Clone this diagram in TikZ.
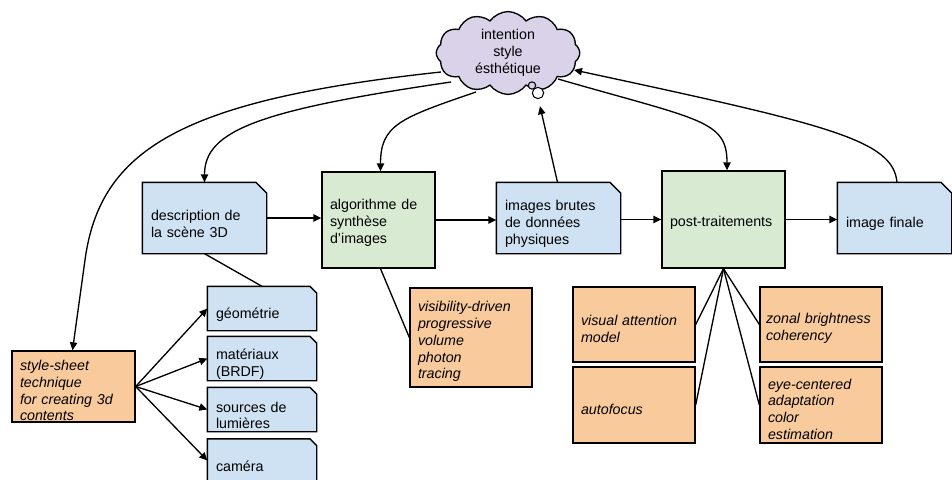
\documentclass[tikz,border=0pt]{standalone}
\usepackage{fontspec}
\setmainfont{Liberation Sans}
\usetikzlibrary{shapes.symbols,arrows.meta,calc,backgrounds}
\definecolor{bluef}{HTML}{CFE2F3}
\definecolor{greenf}{HTML}{D9EAD3}
\definecolor{orangef}{HTML}{F9CB9C}
\definecolor{purplef}{HTML}{D9D2E9}
\begin{document}
\begin{tikzpicture}[x=0.75pt,y=-0.75pt,
  every node/.style={font=\fontsize{10.7}{12.6}\selectfont, inner sep=0pt},
  basebox/.style={rectangle, inner xsep=6pt, inner ysep=0pt, align=left, line width=1pt},
  bluebox/.style={basebox, execute at begin node={\rule{0pt}{16.5pt}}},
  greenbox/.style={basebox, draw, fill=greenf, execute at begin node={\rule{0pt}{12pt}}},
  orangebox/.style={basebox, draw, fill=orangef, font=\fontsize{10.7}{12.6}\selectfont\itshape,
     execute at begin node={\rule{0pt}{14pt}}},
  blueshape/.style={draw, fill=bluef, line width=1pt, line join=miter},
  arr/.style={line width=1pt, -{Triangle[length=6pt,width=5.5pt]}},
  link/.style={line width=1pt},
]
\path[use as bounding box] (0,0) rectangle (952,479);

% cloud
\node[cloud, cloud puffs=12, cloud puff arc=110, aspect=2.1, draw, fill=purplef,
      line width=1pt, minimum width=106pt, minimum height=52pt, align=center]
      (cloud) at (508,53) {intention\\style\\ésthétique};
\node[circle, draw, fill=white, line width=0.8pt, minimum size=8.5pt] (b2) at (538,93) {};
\node[circle, draw, fill=purplef, line width=0.8pt, minimum size=5.5pt] (b1) at (532,85.5) {};

% main row
\node[bluebox, text width=80.25pt, minimum height=52.5pt] (desc) at (204.5,218) {description de\\la scène 3D};
\node[greenbox, text width=72.75pt, minimum height=72pt] (algo) at (378.5,220) {algorithme de\\synthèse\\d'images};
\node[bluebox, text width=80.25pt, minimum height=52.5pt] (brutes) at (558.5,218) {images brutes\\de données\\physiques};
\node[greenbox, text width=80.25pt, minimum height=72.75pt] (post) at (723.5,219.5) {post-traitements};
\node[bluebox, text width=72.75pt, minimum height=52.5pt] (finale) at (894.5,218) {image finale};

% lower left
\node[orangebox, text width=80.25pt, minimum height=53.25pt] (style) at (73.5,386.5) {style-sheet\\technique\\for creating 3d\\contents};
\node[bluebox, text width=69pt, minimum height=32.25pt] (geo) at (262,308.5) {géométrie};
\node[bluebox, text width=69pt, minimum height=32.25pt] (mat) at (262,358.5) {matériaux\\(BRDF)};
\node[bluebox, text width=69pt, minimum height=32.25pt] (src) at (262,409.5) {sources de\\lumières};
\node[bluebox, text width=69pt, minimum height=31.5pt] (cam) at (262,460.5) {caméra};

% lower middle / right
\node[orangebox, text width=79.5pt, minimum height=74.25pt] (vis) at (471,337.5) {visibility-driven\\progressive\\volume\\photon\\tracing};
\node[orangebox, text width=79.5pt, minimum height=56.25pt] (va) at (634,324.5) {visual attention\\model};
\node[orangebox, text width=79.5pt, minimum height=57pt] (af) at (634,405) {autofocus};
\node[orangebox, inner xsep=4.5pt, text width=82.5pt, minimum height=56.25pt] (zb) at (821,324.5) {zonal brightness\\coherency};
\node[orangebox, text width=79.5pt, minimum height=57pt] (ec) at (821,405) {eye-centered\\adaptation\\color\\estimation};

% blue folded boxes
\begin{scope}[on background layer]
\foreach \n/\k in {desc/8,brutes/8,finale/8,geo/5,mat/5,src/5,cam/5}
  \filldraw[blueshape] (\n.south west) -- (\n.north west) -- ([xshift=-\k pt]\n.north east)
     -- ([yshift=-\k pt]\n.north east) -- (\n.south east) -- cycle;
\end{scope}

% horizontal arrows
\draw[arr] (desc.east) -- (desc.east -| algo.west);
\draw[arr] (algo.east) -- (algo.east -| brutes.west);
\draw[arr] (brutes.east |- post.west) -- (post.west);
\draw[arr] (post.east) -- (post.east -| finale.west);

% cloud connectors
\draw[arr] ($(cloud)+(-67,19)$) .. controls (180,100) and (100,150) .. (85,260) -- ($(style.north)+(-1,0)$);
\draw[arr] ($(cloud)+(-57,29)$) .. controls (260,110) and (204.5,130) .. (desc.north);
\draw[arr] ($(cloud)+(-32,39)$) .. controls (400,118) and (380.5,125) .. ($(algo.north)+(2,0)$);
\draw[arr] ($(brutes.north)+(-1,0)$) -- ($(b2.south)+(2,7)$);
\draw[arr] ($(cloud)+(50,26)$) .. controls (700,120) and (727,120) .. ($(post.north)+(3.5,0)$);
\draw[arr] ($(finale.north)+(2.5,0)$) .. controls (893,140) and (830,125) .. ($(cloud)+(66,17)$);

% links
\draw[link] (desc.south) -- (geo.north);
\draw[link] ($(algo.south)+(2,0)$) -- (vis.west);
\draw[link] (post.south) -- (va.east);
\draw[link] (post.south) -- (af.east);
\draw[link] (post.south) -- (zb.west);
\draw[link] (post.south) -- (ec.west);

% style-sheet arrows
\draw[arr] (style.east) -- (geo.west);
\draw[arr] (style.east) -- (mat.west);
\draw[arr] (style.east) -- (src.west);
\draw[arr] (style.east) -- (cam.west);
\end{tikzpicture}
\end{document}
